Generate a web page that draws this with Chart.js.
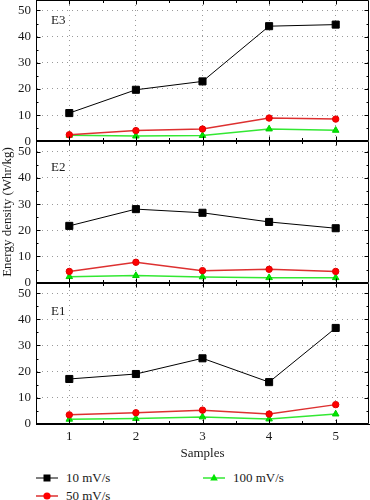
<!DOCTYPE html>
<html><head><meta charset="utf-8">
<script src="https://cdn.jsdelivr.net/npm/chart.js@4.4.0/dist/chart.umd.min.js"></script>
<style>
html,body{margin:0;padding:0;background:#fff;}
#wrap{position:relative;width:370px;height:500px;overflow:hidden;}
#c{position:absolute;left:0;top:0;}
.leg{position:absolute;font-family:'Liberation Serif',serif;font-size:13px;color:#1a1a1a;display:flex;align-items:center;white-space:nowrap;height:14px;}
.leg svg{margin-right:8px;}
</style></head><body>
<div id="wrap"><canvas id="c" width="370" height="466"></canvas><div id="legend"></div></div>
<script>
// ---- data ----
const samples = [1, 2, 3, 4, 5];
const xTicks = [1, 2, 3, 4, 5];
const yTicks = [0, 10, 20, 30, 40, 50];
const seriesNames = ['10 mV/s', '50 mV/s', '100 mV/s'];
const panelNames = ['E3', 'E2', 'E1'];
const e3_10 = [10.8, 19.7, 22.9, 44.0, 44.6];
const e3_50 = [2.5, 4.1, 4.7, 8.9, 8.5];
const e3_100 = [2.3, 2.0, 2.2, 4.7, 4.2];
const e2_10 = [21.7, 28.1, 26.7, 23.2, 20.8];
const e2_50 = [4.3, 7.8, 4.6, 5.1, 4.3];
const e2_100 = [2.3, 2.7, 2.2, 1.9, 1.9];
const e1_10 = [17.2, 19.1, 25.1, 16.0, 36.7];
const e1_50 = [3.5, 4.3, 5.3, 3.8, 7.4];
const e1_100 = [1.8, 2.1, 2.7, 1.9, 3.8];

// ---- styling ----
const FONT = "'Liberation Serif', 'Times New Roman', serif";
const TXT = '#1a1a1a';
const GRID = '#9a9a9a';
const styles = [
  {line: '#000000', fill: '#000000', border: '#000000', point: 'rect', r: 5, lw: 1},
  {line: '#dd3030', fill: '#ff0000', border: '#e00000', point: 'circle', r: 3.2, lw: 1.5},
  {line: '#33e833', fill: '#00e600', border: '#00d000', point: 'triangle', r: 3.8, lw: 1.5}
];
const panels = [
  {id: 'yE1', name: panelNames[2], series: [e1_10, e1_50, e1_100], labelOff: 29},
  {id: 'yE2', name: panelNames[1], series: [e2_10, e2_50, e2_100], labelOff: 26},
  {id: 'yE3', name: panelNames[0], series: [e3_10, e3_50, e3_100], labelOff: 21}
];

const datasets = [];
panels.forEach(p => {
  p.series.forEach((vals, si) => {
    const st = styles[si];
    datasets.push({
      label: seriesNames[si] + ' ' + p.name,
      data: samples.map((x, i) => ({x: x, y: vals[i]})),
      yAxisID: p.id, xAxisID: 'x',
      borderColor: st.line, borderWidth: st.lw,
      backgroundColor: st.fill,
      pointStyle: st.point, pointRadius: st.r,
      pointBackgroundColor: st.fill, pointBorderColor: st.border, pointBorderWidth: 1,
      tension: 0, clip: false, order: si
    });
  });
});

function yAxis(showTitle) {
  return {
    type: 'linear', position: 'left', stack: 'panels', stackWeight: 1,
    min: 0, max: 54,
    afterBuildTicks: s => { s.ticks = yTicks.map(v => ({value: v})); },
    afterFit: s => { s.width = 36; s.paddingTop = 0; s.paddingBottom = 0; },
    grid: {color: GRID, lineWidth: 1, drawTicks: false},
    border: {display: true, color: '#000', width: 1, dash: [1, 4]},
    ticks: {padding: 5, color: TXT, font: {family: FONT, size: 13}, autoSkip: false},
    title: {display: showTitle, text: 'Energy density (Whr/kg)', padding: 0, color: TXT, font: {family: FONT, size: 13}}
  };
}

const scales = {
  x: {
    type: 'linear', position: 'bottom', min: 0.5, max: 5.5,
    afterBuildTicks: s => { s.ticks = xTicks.map(v => ({value: v})); },
    afterFit: s => { s.height = 42; s.paddingLeft = 0; s.paddingRight = 0; },
    grid: {color: GRID, lineWidth: 1, drawTicks: false},
    border: {display: true, color: '#000', width: 1, dash: [1, 4]},
    ticks: {padding: 5, color: TXT, font: {family: FONT, size: 13}},
    title: {display: true, text: 'Samples', padding: {top: 0, bottom: 5}, color: TXT, font: {family: FONT, size: 13}}
  }
};
panels.forEach((p, i) => { scales[p.id] = yAxis(i === 1); });

const framePlugin = {
  id: 'frame',
  afterDraw(chart) {
    const ctx = chart.ctx;
    const xs = chart.scales.x;
    const L = Math.round(chart.chartArea.left) + 0.5;
    const R = Math.round(chart.chartArea.right) - 0.5;
    ctx.save();
    ctx.strokeStyle = '#000';
    ctx.lineWidth = 1;
    panels.forEach(p => {
      const s = chart.scales[p.id];
      const T = Math.round(s.top) + 0.5;
      const B = Math.round(s.bottom) - 0.5;
      ctx.beginPath();
      ctx.rect(L, T, R - L, B - T);
      for (let v = 5; v <= 50; v += 5) {
        const len = v % 10 === 0 ? 4 : 2;
        const y = Math.round(s.getPixelForValue(v)) + 0.5;
        ctx.moveTo(L, y); ctx.lineTo(L + len, y);
        ctx.moveTo(R, y); ctx.lineTo(R - len, y);
      }
      for (let v = 1; v <= 5; v += 0.5) {
        const len = Number.isInteger(v) ? 4 : 2.5;
        const x = Math.round(xs.getPixelForValue(v)) + 0.5;
        ctx.moveTo(x, B); ctx.lineTo(x, B - len);
        ctx.moveTo(x, T); ctx.lineTo(x, T + len);
      }
      ctx.stroke();
      ctx.fillStyle = TXT;
      ctx.font = '13px ' + FONT;
      ctx.textBaseline = 'middle';
      ctx.textAlign = 'left';
      ctx.fillText(p.name, chart.chartArea.left + 15, s.top + p.labelOff);
    });
    ctx.restore();
  }
};

new Chart(document.getElementById('c'), {
  type: 'line',
  data: {datasets: datasets},
  options: {
    responsive: false, animation: false, devicePixelRatio: 1,
    layout: {autoPadding: false, padding: {left: 0, right: 1, top: 0, bottom: 0}},
    plugins: {legend: {display: false}, tooltip: {enabled: false}},
    scales: scales
  },
  plugins: [framePlugin]
});

// ---- legend (HTML, real text) ----
function markerSvg(st) {
  let m = '';
  if (st.point === 'rect') m = '<rect x="7.5" y="1.5" width="7" height="7" fill="' + st.fill + '"/>';
  else if (st.point === 'circle') m = '<circle cx="11" cy="5" r="3.6" fill="' + st.fill + '"/>';
  else m = '<polygon points="11,0.8 14.8,7.4 7.2,7.4" fill="' + st.fill + '"/>';
  return '<svg width="22" height="10" viewBox="0 0 22 10"><line x1="0" y1="5" x2="22" y2="5" stroke="' + st.line + '" stroke-width="' + st.lw + '"/>' + m + '</svg>';
}
const legendPos = [{x: 36, y: 471}, {x: 36, y: 489}, {x: 203, y: 471}];
const legEl = document.getElementById('legend');
seriesNames.forEach((n, i) => {
  const d = document.createElement('div');
  d.className = 'leg';
  d.style.left = legendPos[i].x + 'px';
  d.style.top = legendPos[i].y + 'px';
  d.innerHTML = markerSvg(styles[i]) + '<span>' + n + '</span>';
  legEl.appendChild(d);
});
</script>
</body></html>
